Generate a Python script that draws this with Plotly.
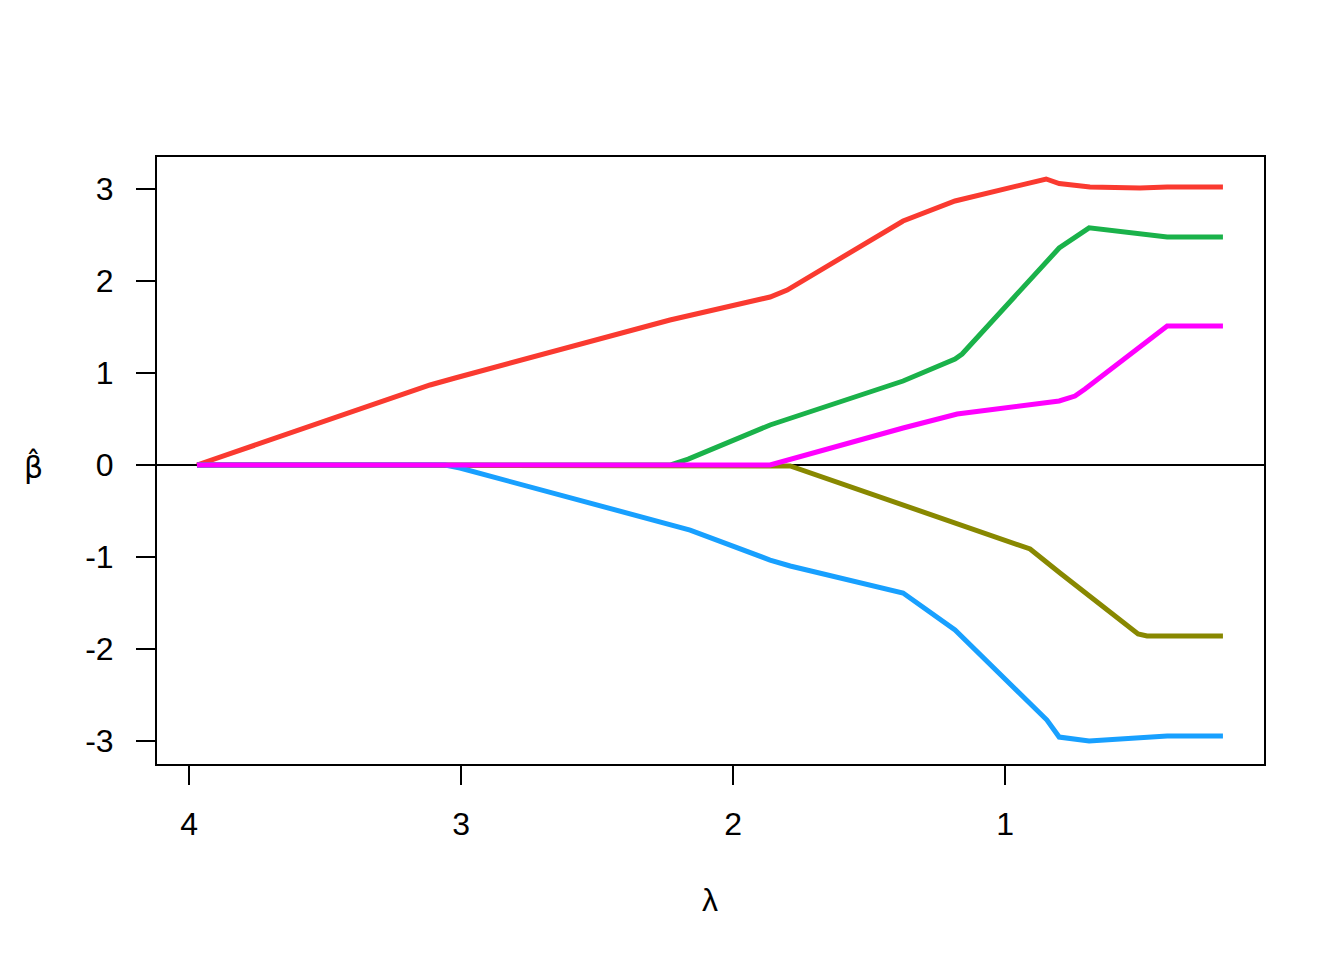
import plotly.graph_objects as go

# lambda (x) and coefficient (beta) values per path
lam_red = [3.971, 3.114, 3.022, 2.232, 1.864, 1.801, 1.375, 1.184, 0.849, 0.830, 0.801, 0.688, 0.504, 0.404, 0.199]
beta_red = [0.0, 0.870, 0.946, 1.576, 1.826, 1.902, 2.652, 2.870, 3.109, 3.095, 3.060, 3.022, 3.011, 3.022, 3.022]

lam_green = [3.971, 2.232, 2.165, 1.864, 1.375, 1.184, 1.158, 0.801, 0.691, 0.404, 0.199]
beta_green = [0.0, 0.0, 0.065, 0.435, 0.913, 1.152, 1.206, 2.359, 2.578, 2.478, 2.478]

lam_olive = [3.971, 1.801, 1.790, 0.908, 0.798, 0.511, 0.478, 0.199]
beta_olive = [0.0, 0.0, -0.010, -0.913, -1.174, -1.837, -1.859, -1.859]

lam_blue = [3.971, 3.059, 3.004, 2.232, 2.158, 1.864, 1.790, 1.375, 1.184, 0.846, 0.801, 0.691, 0.404, 0.199]
beta_blue = [0.0, 0.0, -0.033, -0.652, -0.707, -1.033, -1.098, -1.391, -1.793, -2.772, -2.957, -3.000, -2.946, -2.946]

lam_magenta = [3.971, 1.864, 1.375, 1.176, 0.801, 0.743, 0.706, 0.404, 0.199]
beta_magenta = [0.0, 0.0, 0.402, 0.554, 0.696, 0.750, 0.826, 1.511, 1.511]

x_ticks = [4, 3, 2, 1]
y_ticks = [-3, -2, -1, 0, 1, 2, 3]

series = [
    (lam_red, beta_red, "#FA3A30"),
    (lam_green, beta_green, "#1AB24A"),
    (lam_olive, beta_olive, "#888800"),
    (lam_blue, beta_blue, "#18A0FF"),
    (lam_magenta, beta_magenta, "#FF00FF"),
]

fig = go.Figure()
for lx, by, col in series:
    fig.add_trace(go.Scatter(x=lx, y=by, mode="lines",
                             line=dict(color=col, width=5),
                             showlegend=False, hoverinfo="skip"))

font = dict(family="Liberation Sans, Arial, sans-serif", size=32, color="black")

fig.update_layout(
    width=1336, height=952,
    margin=dict(l=149, r=80, t=149, b=196),
    paper_bgcolor="white", plot_bgcolor="white",
    font=font,
    xaxis=dict(range=[4.118, 0.048], tickvals=x_ticks, ticktext=[str(v) for v in x_ticks],
               ticks="outside", ticklen=19, tickwidth=2, tickcolor="black",
               showline=True, linewidth=2, linecolor="black", mirror=True,
               showgrid=False, zeroline=False, ticklabelstandoff=12, tickfont=font),
    yaxis=dict(range=[-3.25, 3.348], tickvals=y_ticks, ticktext=[str(v) for v in y_ticks],
               ticks="outside", ticklen=19, tickwidth=2, tickcolor="black",
               showline=True, linewidth=2, linecolor="black", mirror=True,
               showgrid=False, zeroline=False, ticklabelstandoff=16, tickfont=font),
)

fig.add_shape(type="line", xref="paper", yref="y", x0=0, x1=1, y0=0, y1=0,
              line=dict(color="black", width=2), layer="below")

fig.add_annotation(text="λ", xref="paper", yref="paper", x=(710 - 157) / 1107, y=(764 - 900) / 607,
                   showarrow=False, font=font, xanchor="center", yanchor="middle")
fig.add_annotation(text="\u03b2\u0302", xref="paper", yref="paper", x=(33 - 157) / 1107, y=(764 - 466) / 607,
                   showarrow=False, font=dict(family="DejaVu Sans, sans-serif", size=30, color="black"),
                   xanchor="center", yanchor="middle")

fig.write_html("out.html")
